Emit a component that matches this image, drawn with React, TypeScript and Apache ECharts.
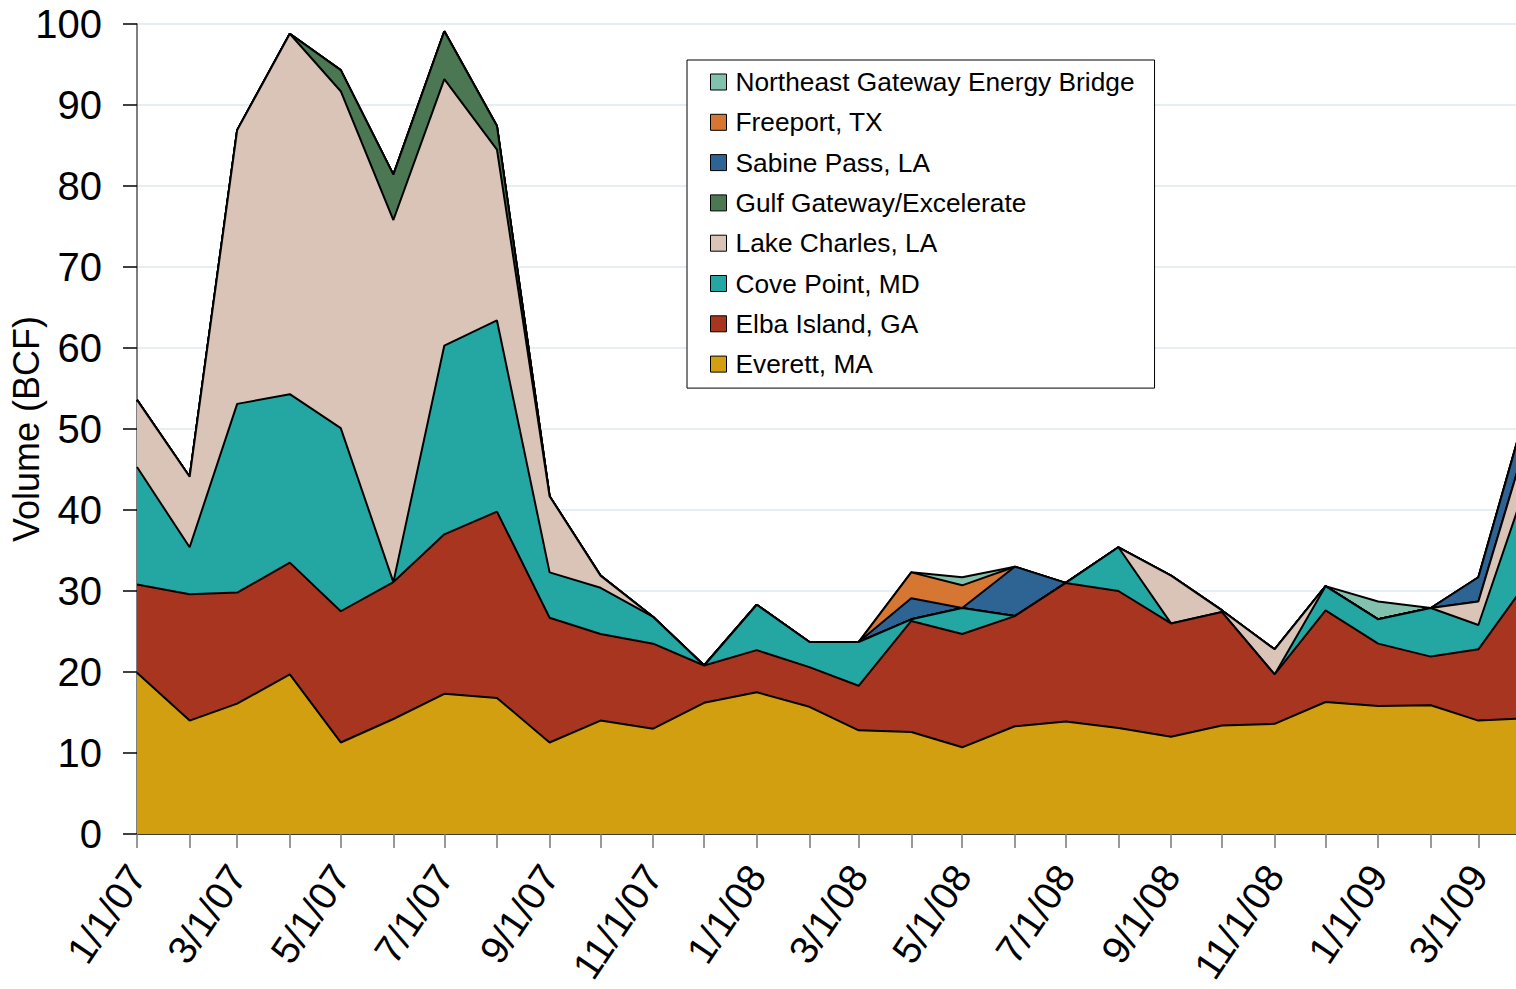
import React, { useEffect, useRef } from 'react';
import * as echarts from 'echarts';

// Monthly import volumes (BCF), 1/1/07 .. 4/1/09
const months: string[] = [
  '2007-01', '2007-02', '2007-03', '2007-04', '2007-05', '2007-06', '2007-07', '2007-08', '2007-09', '2007-10', '2007-11', '2007-12',
  '2008-01', '2008-02', '2008-03', '2008-04', '2008-05', '2008-06', '2008-07', '2008-08', '2008-09', '2008-10', '2008-11', '2008-12',
  '2009-01', '2009-02', '2009-03', '2009-04',
];

const everett = [19.9, 14.0, 16.1, 19.7, 11.3, 14.2, 17.3, 16.8, 11.3, 14.0, 13.0, 16.2, 17.5, 15.7, 12.8, 12.6, 10.7, 13.3, 13.9, 13.1, 12.0, 13.4, 13.6, 16.3, 15.8, 15.9, 14.0, 14.3];
const elba = [10.9, 15.6, 13.7, 13.8, 16.2, 16.9, 19.7, 23.0, 15.4, 10.7, 10.5, 4.6, 5.2, 4.9, 5.5, 13.7, 14.0, 13.6, 17.1, 16.9, 14.0, 14.0, 6.1, 11.3, 7.7, 6.0, 8.8, 17.5];
const covePoint = [14.5, 5.8, 23.3, 20.8, 22.6, 0, 23.3, 23.6, 5.6, 5.7, 3.3, 0, 5.6, 3.1, 5.4, 0.2, 3.2, 0, 0, 5.4, 0, 0, 0, 3.0, 3.0, 6.0, 3.0, 13.1];
const lakeCharles = [8.3, 8.7, 33.8, 44.5, 41.6, 44.7, 32.9, 21.1, 9.4, 1.5, 0, 0, 0, 0, 0, 0, 0, 0, 0, 0, 5.9, 0.2, 3.1, 0, 0, 0, 2.9, 5.5];
const gulfGateway = [0, 0, 0, 0, 2.6, 5.6, 5.9, 2.9, 0, 0, 0, 0, 0, 0, 0, 0, 0, 0, 0, 0, 0, 0, 0, 0, 0, 0, 0, 0];
const sabinePass = [0, 0, 0, 0, 0, 0, 0, 0, 0, 0, 0, 0, 0, 0, 0, 2.6, 0, 6.1, 0, 0, 0, 0, 0, 0, 0, 0, 3.0, 4.0];
const freeport = [0, 0, 0, 0, 0, 0, 0, 0, 0, 0, 0, 0, 0, 0, 0, 3.2, 2.8, 0, 0, 0, 0, 0, 0, 0, 0, 0, 0, 0];
const northeastGateway = [0, 0, 0, 0, 0, 0, 0, 0, 0, 0, 0, 0, 0, 0, 0, 0, 1.0, 0, 0, 0, 0, 0, 0, 0, 2.2, 0, 0, 0];

const seriesNames = [
  'Everett, MA',
  'Elba Island, GA',
  'Cove Point, MD',
  'Lake Charles, LA',
  'Gulf Gateway/Excelerate',
  'Sabine Pass, LA',
  'Freeport, TX',
  'Northeast Gateway Energy Bridge',
];
const seriesValues = [everett, elba, covePoint, lakeCharles, gulfGateway, sabinePass, freeport, northeastGateway];
const seriesColors = ['#D29F10', '#A73520', '#24A6A3', '#D9C4B7', '#4B7852', '#2E6494', '#D67633', '#82C1AD'];

const FONT = '"Liberation Sans", Arial, Helvetica, sans-serif';

function toTime(m: string): number {
  const [y, mo] = m.split('-').map(Number);
  return new Date(y, mo - 1, 1).getTime();
}

export default function App() {
  const ref = useRef<HTMLDivElement>(null);

  useEffect(() => {
    if (!ref.current) return;
    const chart = echarts.init(ref.current, undefined, { renderer: 'svg' });
    const times = months.map(toTime);
    const DAY = 24 * 3600 * 1000;

    const series = seriesNames.map((name, i) => ({
      name,
      type: 'line',
      stack: 'total',
      z: 20 - i,
      data: times.map((t, k) => [t, seriesValues[i][k]]),
      showSymbol: false,
      symbol: 'none',
      lineStyle: { color: '#000', width: 2 },
      itemStyle: { color: seriesColors[i] },
      areaStyle: { color: seriesColors[i], opacity: 1 },
      emphasis: { disabled: true },
      silent: true,
    }));

    const legendData = seriesNames
      .map((name, i) => ({
        name,
        icon: 'rect',
        itemStyle: { color: seriesColors[i], borderColor: '#000', borderWidth: 1 },
      }))
      .reverse();

    chart.setOption({
      animation: false,
      backgroundColor: '#fff',
      textStyle: { fontFamily: FONT },
      grid: { left: 137, right: -15, top: 24, bottom: 155, containLabel: false, outerBoundsMode: 'none' },
      legend: {
        data: legendData,
        orient: 'vertical',
        left: 687,
        top: 60,
        z: 100,
        padding: [9, 20, 11, 23],
        itemWidth: 16,
        itemHeight: 16,
        itemGap: 14.3,
        backgroundColor: '#fff',
        borderColor: '#000',
        borderWidth: 1,
        borderRadius: 0,
        selectedMode: false,
        textStyle: { fontSize: 26.3, color: '#000', fontFamily: FONT, lineHeight: 26, padding: [0, 0, 0, 4] },
      },
      xAxis: {
        type: 'time',
        min: times[0],
        max: times[times.length - 1],
        minInterval: 28 * DAY,
        maxInterval: 31 * DAY,
        splitNumber: 27,
        splitLine: { show: false },
        axisLine: { show: true, lineStyle: { color: '#000', width: 1.5 } },
        axisTick: { show: true, length: 14, lineStyle: { color: '#777', width: 1.5 } },
        axisLabel: {
          rotate: 56,
          margin: 35,
          fontSize: 39,
          color: '#000',
          fontFamily: FONT,
          showMinLabel: true,
          showMaxLabel: false,
          formatter: (value: number) => {
            const d = new Date(value);
            if (d.getDate() !== 1 || d.getMonth() % 2 !== 0) return '';
            return `${d.getMonth() + 1}/1/${String(d.getFullYear()).slice(2)}`;
          },
        },
      },
      yAxis: {
        type: 'value',
        min: 0,
        max: 100,
        interval: 10,
        name: 'Volume (BCF)',
        nameLocation: 'middle',
        nameGap: 93,
        nameMoveOverlap: false,
        nameTextStyle: { fontSize: 36, color: '#000', fontFamily: FONT },
        axisLine: { show: true, lineStyle: { color: '#555', width: 1.5 } },
        axisTick: { show: true, length: 14, lineStyle: { color: '#000', width: 1.5 } },
        axisLabel: { fontSize: 40, color: '#000', margin: 35, fontFamily: FONT },
        splitLine: { show: true, lineStyle: { color: '#DCE8EB', width: 1.5 } },
      },
      series,
    });

    return () => chart.dispose();
  }, []);

  return (
    <div
      ref={ref}
      style={{ position: 'fixed', left: 0, top: 0, width: 1516, height: 989, overflow: 'hidden', background: '#fff' }}
    />
  );
}
